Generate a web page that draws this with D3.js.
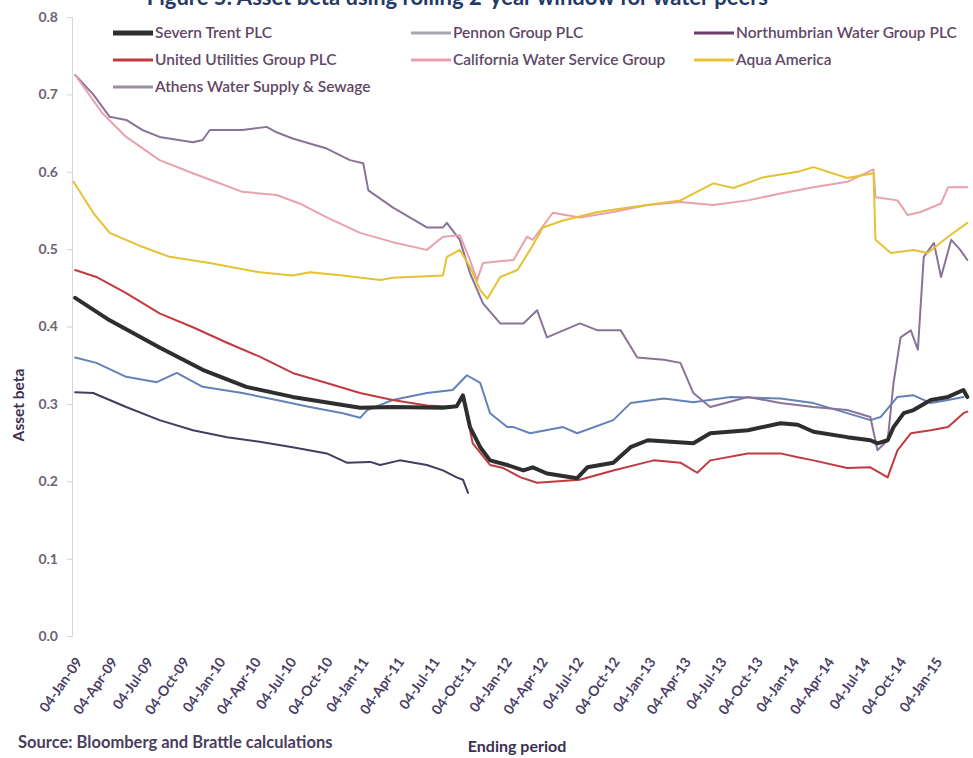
<!DOCTYPE html>
<html>
<head>
<meta charset="utf-8">
<script src="https://cdn.jsdelivr.net/npm/d3@7"></script>
<style>
  body { margin: 0; background: #fff; }
  svg { display: block; font-family: "Lato", "Open Sans", sans-serif; }
</style>
</head>
<body>
<svg id="chart" width="973" height="758"></svg>
<script>
const FRAME_WIDTH = 973;
const FRAME_HEIGHT = 758;
const PLOT = {left: 72, top: 17, bottom: 636};

// values, [ending date, asset beta]
const severnTrent = [["2009-01-12",0.437],["2009-04-10",0.408],["2009-08-15",0.373],["2009-12-03",0.344],["2010-03-24",0.322],["2010-07-20",0.309],["2011-01-08",0.295],["2011-04-01",0.296],["2011-08-07",0.295],["2011-09-11",0.297],["2011-09-27",0.311],["2011-10-15",0.27],["2011-11-10",0.244],["2011-12-05",0.227],["2012-01-18",0.221],["2012-02-28",0.214],["2012-03-23",0.218],["2012-04-28",0.21],["2012-07-14",0.204],["2012-08-09",0.218],["2012-10-14",0.224],["2012-11-27",0.244],["2013-01-10",0.253],["2013-05-06",0.249],["2013-06-18",0.262],["2013-09-22",0.266],["2013-12-14",0.275],["2014-01-27",0.273],["2014-03-08",0.264],["2014-06-02",0.257],["2014-07-31",0.253],["2014-08-18",0.249],["2014-09-13",0.253],["2014-09-28",0.27],["2014-10-24",0.288],["2014-11-18",0.292],["2015-01-01",0.305],["2015-02-14",0.309],["2015-03-25",0.318],["2015-04-04",0.309]];

const unitedUtilities = [["2009-01-12",0.473],["2009-03-07",0.464],["2009-05-22",0.443],["2009-08-15",0.417],["2009-11-08",0.399],["2010-02-03",0.379],["2010-04-27",0.361],["2010-07-20",0.34],["2010-10-15",0.327],["2011-01-08",0.314],["2011-04-01",0.305],["2011-06-27",0.298],["2011-09-11",0.296],["2011-09-27",0.309],["2011-10-22",0.249],["2011-12-05",0.221],["2012-01-08",0.217],["2012-02-21",0.205],["2012-04-03",0.198],["2012-07-21",0.202],["2012-10-14",0.214],["2013-01-25",0.227],["2013-04-03",0.224],["2013-05-16",0.211],["2013-06-18",0.227],["2013-09-22",0.236],["2013-12-14",0.236],["2014-01-27",0.231],["2014-03-08",0.227],["2014-06-02",0.217],["2014-07-31",0.218],["2014-09-13",0.205],["2014-10-08",0.24],["2014-11-11",0.262],["2015-01-01",0.266],["2015-02-14",0.27],["2015-03-25",0.288],["2015-04-04",0.29]];

const pennon = [["2009-01-12",0.36],["2009-03-07",0.353],["2009-05-22",0.335],["2009-08-08",0.328],["2009-09-28",0.34],["2009-12-03",0.322],["2010-03-14",0.314],["2010-06-09",0.305],["2010-09-02",0.296],["2010-11-25",0.288],["2011-01-08",0.282],["2011-01-26",0.292],["2011-04-01",0.305],["2011-06-27",0.314],["2011-09-01",0.318],["2011-10-07",0.337],["2011-11-10",0.327],["2011-12-05",0.288],["2012-01-18",0.27],["2012-02-03",0.27],["2012-03-16",0.262],["2012-06-08",0.27],["2012-07-14",0.262],["2012-10-14",0.279],["2012-11-27",0.301],["2013-02-20",0.307],["2013-05-06",0.302],["2013-08-09",0.309],["2013-12-14",0.307],["2014-03-08",0.301],["2014-06-02",0.288],["2014-07-31",0.279],["2014-08-26",0.283],["2014-10-08",0.309],["2014-11-18",0.311],["2015-01-01",0.301],["2015-02-14",0.305],["2015-03-25",0.309]];

const northumbrian = [["2009-01-12",0.315],["2009-02-27",0.314],["2009-05-22",0.296],["2009-08-15",0.279],["2009-11-08",0.266],["2010-02-03",0.257],["2010-04-27",0.251],["2010-07-20",0.244],["2010-10-15",0.236],["2010-12-05",0.224],["2011-02-03",0.225],["2011-02-28",0.221],["2011-04-19",0.227],["2011-06-27",0.221],["2011-08-07",0.214],["2011-09-11",0.205],["2011-09-27",0.202],["2011-10-10",0.185]];

const californiaWater = [["2009-01-12",0.725],["2009-03-22",0.676],["2009-05-22",0.645],["2009-08-15",0.615],["2009-11-08",0.598],["2010-03-14",0.574],["2010-06-09",0.57],["2010-08-07",0.559],["2010-10-15",0.541],["2011-01-08",0.521],["2011-04-01",0.509],["2011-06-27",0.499],["2011-08-07",0.516],["2011-09-19",0.518],["2011-10-15",0.486],["2011-11-02",0.46],["2011-11-17",0.482],["2012-02-03",0.486],["2012-03-08",0.516],["2012-03-23",0.512],["2012-05-13",0.547],["2012-07-21",0.541],["2012-10-14",0.548],["2013-01-10",0.557],["2013-04-03",0.561],["2013-06-26",0.557],["2013-09-22",0.563],["2013-12-14",0.572],["2014-03-08",0.58],["2014-06-02",0.587],["2014-08-08",0.603],["2014-08-13",0.567],["2014-10-08",0.563],["2014-11-03",0.544],["2014-12-06",0.548],["2015-01-27",0.559],["2015-02-14",0.58],["2015-04-04",0.58]];

const aquaAmerica = [["2009-01-08",0.587],["2009-02-27",0.547],["2009-04-10",0.521],["2009-07-02",0.503],["2009-09-10",0.49],["2009-12-21",0.482],["2010-04-27",0.47],["2010-07-20",0.466],["2010-09-02",0.47],["2010-11-25",0.466],["2011-02-28",0.46],["2011-04-01",0.463],["2011-08-07",0.466],["2011-08-17",0.49],["2011-09-19",0.499],["2011-10-15",0.477],["2011-11-10",0.447],["2011-11-28",0.436],["2011-12-31",0.464],["2012-02-13",0.473],["2012-03-16",0.499],["2012-04-18",0.528],["2012-06-08",0.537],["2012-09-04",0.548],["2012-11-27",0.554],["2013-04-03",0.563],["2013-06-26",0.585],["2013-08-16",0.579],["2013-11-01",0.593],["2014-01-27",0.60],["2014-03-08",0.606],["2014-06-02",0.592],["2014-08-08",0.598],["2014-08-13",0.512],["2014-09-21",0.495],["2014-11-18",0.499],["2014-12-24",0.495],["2015-02-14",0.516],["2015-04-04",0.534]];

const athensWater = [["2009-01-12",0.725],["2009-02-27",0.70],["2009-04-10",0.671],["2009-05-22",0.667],["2009-07-02",0.654],["2009-08-15",0.645],["2009-11-08",0.638],["2009-12-03",0.641],["2009-12-21",0.654],["2010-03-14",0.654],["2010-05-15",0.658],["2010-06-09",0.651],["2010-07-20",0.643],["2010-10-15",0.63],["2010-12-13",0.615],["2011-01-16",0.611],["2011-01-29",0.576],["2011-04-01",0.554],["2011-06-27",0.528],["2011-08-07",0.528],["2011-08-17",0.534],["2011-09-19",0.512],["2011-10-15",0.469],["2011-11-17",0.43],["2011-12-31",0.404],["2012-02-28",0.404],["2012-04-03",0.421],["2012-04-28",0.386],["2012-07-21",0.404],["2012-09-04",0.395],["2012-11-02",0.395],["2012-12-14",0.36],["2013-02-20",0.357],["2013-04-03",0.353],["2013-05-06",0.314],["2013-06-18",0.296],["2013-09-22",0.309],["2013-12-14",0.301],["2014-03-08",0.296],["2014-06-02",0.292],["2014-07-31",0.283],["2014-08-18",0.24],["2014-09-13",0.253],["2014-09-28",0.327],["2014-10-16",0.386],["2014-11-11",0.395],["2014-11-29",0.37],["2014-12-14",0.49],["2015-01-09",0.508],["2015-01-27",0.464],["2015-02-22",0.512],["2015-03-17",0.499],["2015-04-04",0.486]];

const seriesNames = ["Severn Trent PLC", "Pennon Group PLC", "Northumbrian Water Group PLC",
                     "United Utilities Group PLC", "California Water Service Group", "Aqua America",
                     "Athens Water Supply & Sewage"];
const seriesData = [severnTrent, pennon, northumbrian, unitedUtilities, californiaWater, aquaAmerica, athensWater];
const seriesColors = ["#2e2e2e", "#6382b8", "#3f3f60", "#c23a40", "#e9a2ad", "#e6c131", "#8a7399"];
const legendColors = ["#2e2e2e", "#a9a6b3", "#6b3d66", "#c23a40", "#e9a2ad", "#e6c131", "#9a8da6"];
const seriesWidths = [4, 2, 2, 2, 2, 2, 2];

const xTicks = ["2009-01-04","2009-04-04","2009-07-04","2009-10-04","2010-01-04","2010-04-04","2010-07-04",
  "2010-10-04","2011-01-04","2011-04-04","2011-07-04","2011-10-04","2012-01-04","2012-04-04","2012-07-04",
  "2012-10-04","2013-01-04","2013-04-04","2013-07-04","2013-10-04","2014-01-04","2014-04-04","2014-07-04",
  "2014-10-04","2015-01-04"];
const yTicks = [0, 0.1, 0.2, 0.3, 0.4, 0.5, 0.6, 0.7, 0.8];

const parse = d3.timeParse("%Y-%m-%d");
const TEXT = "#624766";

const svg = d3.select("#chart");

const X_SCALE = d3.scaleTime()
  .domain([parse("2009-01-04"), parse("2015-01-04")])
  .range([PLOT.left, 932]);

const Y_SCALE = d3.scaleLinear()
  .domain([0, 0.8])
  .range([PLOT.bottom, PLOT.top]);

// chart title, cut off by the top edge as in the scan
svg.append("text")
  .attr("x", 768).attr("y", 5)
  .attr("text-anchor", "end")
  .attr("font-size", 22).attr("font-weight", "bold")
  .attr("fill", "#233a66")
  .text("Figure 5: Asset beta using rolling 2-year window for water peers");

// y axis
const yAxis = svg.append("g")
  .attr("transform", "translate(" + PLOT.left + ",0)")
  .call(d3.axisLeft(Y_SCALE).tickValues(yTicks).tickFormat(d3.format(".1f")).tickSize(5).tickPadding(9));
yAxis.select(".domain").attr("stroke", "#d6d6d6");
yAxis.selectAll(".tick line").attr("stroke", "#d0d0d0");
yAxis.selectAll(".tick text")
  .attr("font-size", 14).attr("font-weight", "bold")
  .attr("fill", "#6e6470")
  .attr("font-family", "Lato, sans-serif");

// x axis, labels only
const xAxis = svg.append("g")
  .attr("transform", "translate(0," + PLOT.bottom + ")")
  .call(d3.axisBottom(X_SCALE).tickValues(xTicks.map(parse)).tickFormat(d3.timeFormat("%d-%b-%y")).tickSize(0));
xAxis.select(".domain").remove();
xAxis.selectAll(".tick text")
  .attr("text-anchor", "end")
  .attr("dx", 0).attr("dy", 0)
  .attr("transform", "translate(8,24) rotate(-55)")
  .attr("font-size", 14).attr("font-weight", "bold")
  .attr("fill", "#4b3f66")
  .attr("font-family", "Lato, sans-serif");

// lines
const line = d3.line()
  .x((d) => X_SCALE(parse(d[0])))
  .y((d) => Y_SCALE(d[1]));

const drawOrder = [2, 1, 6, 4, 5, 3, 0];
drawOrder.forEach((i) => {
  svg.append("path")
    .datum(seriesData[i])
    .attr("d", line)
    .attr("fill", "none")
    .attr("stroke", seriesColors[i])
    .attr("stroke-width", seriesWidths[i])
    .attr("stroke-linejoin", "round")
    .attr("stroke-linecap", "round");
});

// legend, three columns
const legendX = [113, 411, 694];
const legendY = [33, 60, 87];
seriesNames.forEach((name, i) => {
  const g = svg.append("g")
    .attr("transform", "translate(" + legendX[i % 3] + "," + legendY[Math.floor(i / 3)] + ")");
  g.append("line")
    .attr("x1", 0).attr("x2", 40)
    .attr("stroke", legendColors[i])
    .attr("stroke-width", i === 0 ? 5 : 3);
  g.append("text")
    .attr("x", 42).attr("y", 5)
    .attr("font-size", 15.5).attr("font-weight", 600)
    .attr("fill", TEXT)
    .attr("font-family", "Lato, sans-serif")
    .text(name);
});

// axis titles and source
svg.append("text")
  .attr("transform", "translate(24,405) rotate(-90)")
  .attr("text-anchor", "middle")
  .attr("font-size", 15.5).attr("font-weight", "bold")
  .attr("fill", "#3e3050")
  .text("Asset beta");

svg.append("text")
  .attr("x", 517).attr("y", 752)
  .attr("text-anchor", "middle")
  .attr("font-size", 16).attr("font-weight", "bold")
  .attr("fill", "#3e3050")
  .text("Ending period");

svg.append("text")
  .attr("x", 18).attr("y", 748)
  .attr("font-size", 16.5).attr("font-weight", "bold")
  .attr("fill", "#4a3e5c")
  .text("Source: Bloomberg and Brattle calculations");
</script>
</body>
</html>
